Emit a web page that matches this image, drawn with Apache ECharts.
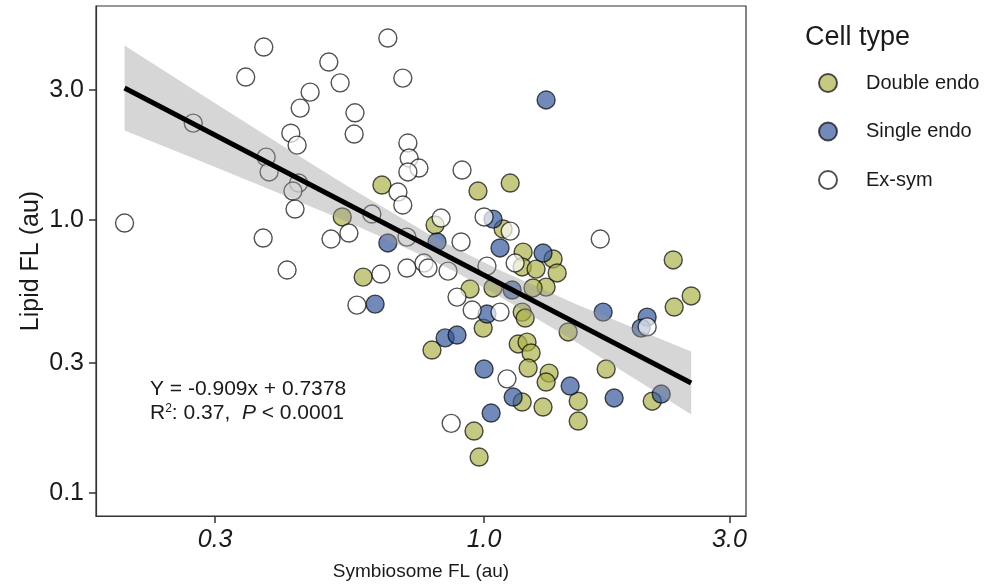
<!DOCTYPE html>
<html>
<head>
<meta charset="utf-8">
<script src="https://cdn.jsdelivr.net/npm/echarts@6/dist/echarts.min.js"></script>
<style>
  html, body { margin: 0; padding: 0; background: #fff; }
  #chart { width: 1001px; height: 586px; }
</style>
</head>
<body>
<div id="chart"></div>
<script>
// 数据：Double endo
var doubleX = [0.633, 0.530, 0.582, 0.803, 0.973, 1.124, 1.089, 1.191, 1.362, 2.332, 1.186, 1.262, 1.387,
  1.320, 1.245, 0.939, 1.041, 2.527, 2.342, 1.186, 1.202, 0.996, 1.457, 0.792, 1.165, 1.212, 1.234,
  1.218, 1.338, 1.320, 1.727, 1.524, 1.524, 2.123, 1.186, 1.302, 0.956, 0.978];
var doubleY = [1.343, 1.026, 0.618, 0.959, 1.277, 1.366, 0.927, 0.763, 0.720, 0.714, 0.673, 0.661, 0.640,
  0.568, 0.564, 0.559, 0.564, 0.527, 0.480, 0.460, 0.4375, 0.402, 0.389, 0.334, 0.3515, 0.357, 0.326,
  0.287, 0.275, 0.255, 0.2845, 0.217, 0.1835, 0.217, 0.2154, 0.2065, 0.1687, 0.1355];

// 数据：Single endo
var singleX = [1.320, 0.650, 0.810, 1.041, 1.074, 1.302, 1.134, 0.614, 1.013, 0.840, 0.886, 1.704,
  2.075, 2.020, 1.000, 1.470, 1.139, 1.032, 1.790, 2.210];
var singleY = [2.752, 0.824, 0.831, 1.008, 0.790, 0.757, 0.554, 0.492, 0.4525, 0.370, 0.379, 0.460,
  0.441, 0.402, 0.2845, 0.2466, 0.2247, 0.1963, 0.2229, 0.2305];

// 数据：Ex-sym
var exsymX = [0.200, 0.272, 0.344, 0.373, 0.499, 0.650, 0.525, 0.695, 0.459, 0.439, 0.561, 0.421, 0.559,
  0.433, 0.377, 0.382, 0.711, 0.715, 0.747, 0.711, 0.436, 0.425, 0.429, 0.680, 0.695, 0.605, 0.546,
  0.504, 0.372, 0.708, 0.414, 0.630, 0.566, 0.708, 0.764, 0.778, 0.825, 0.906, 0.902, 0.886, 0.948,
  1.074, 0.863, 1.000, 1.013, 1.108, 1.149, 1.682, 2.075, 0.851, 1.124];
var exsymY = [0.975, 2.265, 3.34, 4.30, 3.79, 4.64, 3.18, 3.31, 2.94, 2.57, 2.47, 2.08, 2.065,
  1.88, 1.70, 1.50, 1.915, 1.687, 1.55, 1.50, 1.366, 1.277, 1.097, 1.266, 1.135, 1.052, 0.896,
  0.852, 0.859, 0.866, 0.656, 0.634, 0.488, 0.667, 0.696, 0.667, 1.017, 1.524, 0.831, 0.522, 0.468,
  0.460, 0.180, 1.026, 0.678, 0.262, 0.696, 0.852, 0.406, 0.650, 0.911];

// 回归线与置信带
var fitX = [0.200, 2.527];
var fitY = [3.045, 0.253];
var bandX = [0.200, 0.280, 0.392, 0.549, 0.768, 0.878, 1.074, 1.503, 2.104, 2.527];
var bandUpper = [4.36, 2.909, 1.947, 1.313, 0.904, 0.789, 0.654, 0.494, 0.380, 0.330];
var bandLower = [2.127, 1.647, 1.273, 0.976, 0.733, 0.646, 0.524, 0.359, 0.2414, 0.194];

// 刻度
var xTicks = [0.3, 1, 3];
var yTicks = [0.1, 0.3, 1, 3];

function zip (xs, ys) {
  return xs.map(function (x, i) { return [x, ys[i]] })
}

var FONT = 'Liberation Sans, Arial, sans-serif'
var TXT = '#1a1a1a'

var myChart = echarts.init(document.getElementById('chart'))

var pointStyle = function (fill) {
  return {
    color: fill,
    borderColor: 'rgba(0,0,0,0.85)',
    borderWidth: 1.4
  }
}

var option = {
  animation: false,
  textStyle: { fontFamily: FONT },
  title: {
    text: 'Cell type',
    left: 800,
    top: 19,
    textStyle: { fontSize: 27, fontWeight: 'normal', color: TXT, fontFamily: FONT }
  },
  legend: {
    data: ['Double endo', 'Single endo', 'Ex-sym'],
    orient: 'vertical',
    left: 813,
    top: 67,
    itemWidth: 18,
    itemHeight: 18,
    itemGap: 26.5,
    icon: 'circle',
    textStyle: { fontSize: 20, color: TXT, padding: [0, 0, 0, 24], lineHeight: 22, fontFamily: FONT }
  },
  grid: {
    left: 96,
    right: 255,
    top: 6,
    bottom: 70,
    show: true,
    borderColor: '#333',
    borderWidth: 1.2
  },
  xAxis: {
    type: 'log',
    logBase: 10,
    min: 0.176,
    max: 3.23,
    name: 'Symbiosome FL (au)',
    nameLocation: 'middle',
    nameGap: 46,
    nameTextStyle: { fontSize: 19, color: TXT, fontFamily: FONT },
    axisLine: { show: true, lineStyle: { color: '#333', width: 1.2 } },
    axisTick: { show: true, length: 7, customValues: xTicks, lineStyle: { color: '#333', width: 1.5 } },
    axisLabel: {
      customValues: xTicks,
      formatter: function (v) { return (+v).toFixed(1) },
      fontStyle: 'italic',
      fontSize: 25,
      color: TXT,
      margin: 12,
      fontFamily: FONT
    },
    splitLine: { show: false },
    minorTick: { show: false }
  },
  yAxis: {
    type: 'log',
    logBase: 10,
    min: 0.0824,
    max: 6.08,
    name: 'Lipid FL (au)',
    nameLocation: 'middle',
    nameGap: 52,
    nameMoveOverlap: false,
    nameTextStyle: { fontSize: 25, color: TXT, fontFamily: FONT },
    axisLine: { show: true, lineStyle: { color: '#333', width: 1.2 } },
    axisTick: { show: true, length: 7, customValues: yTicks, lineStyle: { color: '#333', width: 1.5 } },
    axisLabel: {
      customValues: yTicks,
      formatter: function (v) { return (+v).toFixed(1) },
      fontSize: 25,
      color: TXT,
      margin: 12,
      fontFamily: FONT
    },
    splitLine: { show: false },
    minorTick: { show: false }
  },
  graphic: [
    {
      type: 'text',
      left: 150,
      top: 379,
      style: { text: 'Y = -0.909x + 0.7378', font: '21px ' + FONT, fill: TXT }
    },
    {
      type: 'text',
      left: 150,
      top: 403,
      style: {
        text: 'R{sup|2}: 0.37,  {it|P} < 0.0001',
        font: '21px ' + FONT,
        fill: TXT,
        rich: {
          sup: { fontSize: 12, verticalAlign: 'top', fill: TXT, fontFamily: FONT },
          it: { fontStyle: 'italic', fontSize: 21, fill: TXT, fontFamily: FONT }
        }
      }
    }
  ],
  series: [
    {
      name: 'Double endo',
      type: 'scatter',
      symbolSize: 18,
      itemStyle: pointStyle('rgba(170,176,70,0.85)'),
      data: zip(doubleX, doubleY),
      z: 2
    },
    {
      name: 'Single endo',
      type: 'scatter',
      symbolSize: 18,
      itemStyle: pointStyle('rgba(47,84,153,0.85)'),
      data: zip(singleX, singleY),
      z: 2
    },
    {
      name: 'Ex-sym',
      type: 'scatter',
      symbolSize: 18,
      itemStyle: pointStyle('rgba(255,255,255,0.85)'),
      data: zip(exsymX, exsymY),
      z: 2
    },
    {
      // 置信带
      type: 'custom',
      silent: true,
      z: 3,
      data: [[bandX[0], bandUpper[0]]],
      renderItem: function (params, api) {
        var pts = []
        for (var i = 0; i < bandX.length; i++) {
          pts.push(api.coord([bandX[i], bandUpper[i]]))
        }
        for (var j = bandX.length - 1; j >= 0; j--) {
          pts.push(api.coord([bandX[j], bandLower[j]]))
        }
        return {
          type: 'polygon',
          shape: { points: pts },
          style: { fill: 'rgba(153,153,153,0.4)' }
        }
      }
    },
    {
      // 回归线
      type: 'line',
      silent: true,
      z: 4,
      symbol: 'none',
      lineStyle: { color: '#000', width: 5 },
      data: zip(fitX, fitY)
    }
  ]
}

myChart.setOption(option)
</script>
</body>
</html>
